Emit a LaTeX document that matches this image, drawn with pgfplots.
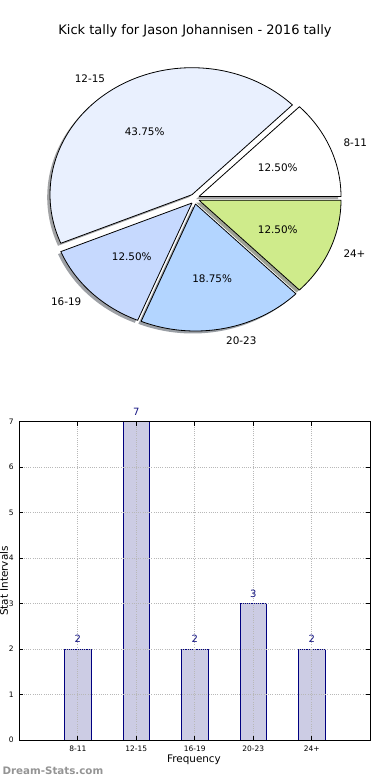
\documentclass[border=0pt]{standalone}
\usepackage{pgfplots}
\pgfplotsset{compat=1.18}
\usepackage{pgfplotstable}
\usepackage{fontspec}
\setmainfont{DejaVu Sans}

\definecolor{cA}{RGB}{255,255,255}
\definecolor{cB}{RGB}{233,240,254}
\definecolor{cC}{RGB}{198,217,254}
\definecolor{cD}{RGB}{179,213,255}
\definecolor{cE}{RGB}{207,235,139}
\definecolor{barfill}{RGB}{204,204,228}
\definecolor{baredge}{RGB}{0,0,128}
\definecolor{vallbl}{RGB}{20,20,130}

\pgfplotstableread{
label value
8-11 2
12-15 7
16-19 2
20-23 3
24+ 2
}\tallytable

\def\rx{142}
\def\ry{127}
\newcommand\lbl{\fontsize{10.4}{12}\selectfont}
\newcommand\getv[2]{\pgfplotstablegetelem{#1}{value}\of\tallytable\let#2\pgfplotsretval}
\newcommand\prep[5]{%
  \pgfmathsetmacro\tmpm{(#4+#5)/2}%
  \pgfmathsetmacro\tmp{#2+1.1*\rx*cos(\tmpm)}\expandafter\let\csname lx#1\endcsname\tmp
  \pgfmathsetmacro\tmp{#3-1.1*\ry*sin(\tmpm)}\expandafter\let\csname ly#1\endcsname\tmp
  \pgfmathsetmacro\tmp{#2+0.6*\rx*cos(\tmpm)}\expandafter\let\csname px#1\endcsname\tmp
  \pgfmathsetmacro\tmp{#3-0.6*\ry*sin(\tmpm)}\expandafter\let\csname py#1\endcsname\tmp
}
% sector: sample 0 and 90 are the apex, samples 1..89 run along the arc
\newcommand\pieslice[5]{%
  \addplot[draw=black, line width=0.8pt, line join=round, fill=#5, domain=0:90, samples=91, variable=\t]
    ({#1+ifthenelse(\t<0.5||\t>89.5,0,1)*\rx*cos(#3+(#4-#3)*(\t-1)/88)},
     {#2-ifthenelse(\t<0.5||\t>89.5,0,1)*\ry*sin(#3+(#4-#3)*(\t-1)/88)});
}
\newcommand\pieshadow[5]{%
  \addplot[draw=none, fill=#5!30!black, fill opacity=0.5, domain=0:90, samples=91, variable=\t]
    ({#1+ifthenelse(\t<0.5||\t>89.5,0,1)*\rx*cos(#3+(#4-#3)*(\t-1)/88)},
     {#2-ifthenelse(\t<0.5||\t>89.5,0,1)*\ry*sin(#3+(#4-#3)*(\t-1)/88)});
}

\getv{0}\vA\getv{1}\vB\getv{2}\vC\getv{3}\vD\getv{4}\vE
\pgfmathsetmacro\tot{\vA+\vB+\vC+\vD+\vE}
\pgfmathsetmacro\angA{0}
\pgfmathsetmacro\angB{\angA+360*\vA/\tot}
\pgfmathsetmacro\angC{\angB+360*\vB/\tot}
\pgfmathsetmacro\angD{\angC+360*\vC/\tot}
\pgfmathsetmacro\angE{\angD+360*\vD/\tot}
\pgfmathsetmacro\angF{\angE+360*\vE/\tot}
\pgfmathsetmacro\pctA{100*\vA/\tot}
\pgfmathsetmacro\pctB{100*\vB/\tot}
\pgfmathsetmacro\pctC{100*\vC/\tot}
\pgfmathsetmacro\pctD{100*\vD/\tot}
\pgfmathsetmacro\pctE{100*\vE/\tot}
\prep{A}{199}{196.5}{\angA}{\angB}
\prep{B}{192}{194.7}{\angB}{\angC}
\prep{C}{192}{203}{\angC}{\angD}
\prep{D}{195.5}{204}{\angD}{\angE}
\prep{E}{199}{200.2}{\angE}{\angF}

\begin{document}
\begin{tikzpicture}
\useasboundingbox (0pt,0pt) rectangle (390pt,780pt);
% ---------------- pie ----------------
\begin{axis}[at={(0pt,780pt)}, anchor=north west, scale only axis,
  width=390pt, height=380pt, xmin=0, xmax=390, ymin=0, ymax=380,
  y dir=reverse, hide axis, clip=false]
\pieshadow{196.2}{199.0}{\angA}{\angB}{cA}
\pieshadow{189.2}{197.2}{\angB}{\angC}{cB}
\pieshadow{189.2}{205.5}{\angC}{\angD}{cC}
\pieshadow{192.7}{206.5}{\angD}{\angE}{cD}
\pieshadow{196.2}{202.7}{\angE}{\angF}{cE}
\pieslice{199}{196.5}{\angA}{\angB}{cA}
\pieslice{192}{194.7}{\angB}{\angC}{cB}
\pieslice{192}{203}{\angC}{\angD}{cC}
\pieslice{195.5}{204}{\angD}{\angE}{cD}
\pieslice{199}{200.2}{\angE}{\angF}{cE}
\node[font=\lbl, inner sep=0pt, anchor=west] at (axis cs:\lxA,\lyA) {8-11};
\node[font=\lbl, inner sep=0pt, anchor=east] at (axis cs:\lxB,\lyB) {12-15};
\node[font=\lbl, inner sep=0pt, anchor=east] at (axis cs:\lxC,\lyC) {16-19};
\node[font=\lbl, inner sep=0pt, anchor=west] at (axis cs:\lxD,\lyD) {20-23};
\node[font=\lbl, inner sep=0pt, anchor=west] at (axis cs:\lxE,\lyE) {24+};
\node[font=\lbl] at (axis cs:\pxA,\pyA) {\pgfmathprintnumber[fixed,fixed zerofill,precision=2,assume math mode=true]{\pctA}\%};
\node[font=\lbl] at (axis cs:\pxB,\pyB) {\pgfmathprintnumber[fixed,fixed zerofill,precision=2,assume math mode=true]{\pctB}\%};
\node[font=\lbl] at (axis cs:\pxC,\pyC) {\pgfmathprintnumber[fixed,fixed zerofill,precision=2,assume math mode=true]{\pctC}\%};
\node[font=\lbl] at (axis cs:\pxD,\pyD) {\pgfmathprintnumber[fixed,fixed zerofill,precision=2,assume math mode=true]{\pctD}\%};
\node[font=\lbl] at (axis cs:\pxE,\pyE) {\pgfmathprintnumber[fixed,fixed zerofill,precision=2,assume math mode=true]{\pctE}\%};
\end{axis}
\node[font=\fontsize{13}{15}\selectfont, anchor=base] at (195pt,745.7pt) {Kick tally for Jason Johannisen - 2016 tally};
% ---------------- bars ----------------
\begin{axis}[at={(19.3pt,40pt)}, anchor=south west, scale only axis,
  width=351pt, height=318.3pt, xmin=0, xmax=6, ymin=0, ymax=7,
  xtick={1,2,3,4,5}, xticklabels from table={\tallytable}{label},
  ytick={0,1,2,3,4,5,6,7},
  tick align=inside, major tick length=4pt, tick style={black, line width=0.6pt},
  axis line style={black, line width=0.8pt},
  grid=major, major grid style={dash pattern=on 1pt off 1.2pt, black!28, line width=0.8pt},
  axis on top,
  /pgf/number format/assume math mode=true,
  tick label style={font=\fontsize{7.5}{9}\selectfont},
  yticklabel style={xshift=-2pt},
  xticklabel style={yshift=-2.5pt},
  clip=false]
\addplot[ybar, bar width=0.45, fill=barfill, draw=baredge, line width=0.8pt,
  nodes near coords, nodes near coords style={font=\fontsize{10}{12}\selectfont, text=vallbl, anchor=south, yshift=2.5pt}]
  table[x expr=\coordindex+1, y=value]{\tallytable};
\end{axis}
\node[font=\lbl, anchor=base] at (194pt,17pt) {Frequency};
\node[font=\lbl, anchor=base, rotate=90] at (8pt,199pt) {Stat Intervals};
\node[font=\fontsize{10.3}{12}\selectfont\bfseries, text=black!42, anchor=base west] at (-1pt,5.5pt) {Dream-Stats.com};
\end{tikzpicture}
\end{document}
